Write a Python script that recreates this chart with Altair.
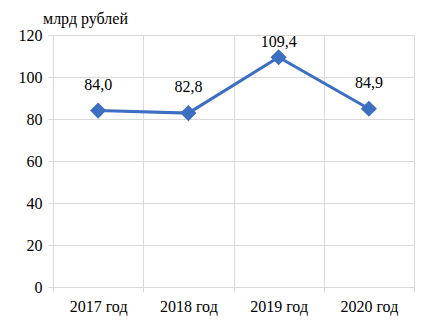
import altair as alt
import pandas as pd

years = ["2017 год", "2018 год", "2019 год", "2020 год"]
values = [84.0, 82.8, 109.4, 84.9]
labels = ["84,0", "82,8", "109,4", "84,9"]
y_ticks = [0, 20, 40, 60, 80, 100, 120]

df = pd.DataFrame({"year": years, "value": values, "label": labels})

W, H = 361, 252
FONT = "Liberation Serif"
GRID = "#d9d9d9"
BLUE = "#3c6fc1"

x_enc = alt.X(
    "year:N", sort=years, title=None,
    scale=alt.Scale(paddingInner=0, paddingOuter=0),
    axis=alt.Axis(tickBand="extent", grid=True, gridColor=GRID, ticks=True, tickColor=GRID,
                  tickSize=5, domainColor=GRID, labelAngle=0,
                  labelFont=FONT, labelFontSize=16, labelColor="#000000", labelPadding=6),
)
y_enc = alt.Y(
    "value:Q", title=None,
    scale=alt.Scale(domain=[0, 120], nice=False),
    axis=alt.Axis(values=y_ticks, grid=True, gridColor=GRID, domain=False, ticks=True,
                  tickColor=GRID, tickSize=5, labelFont=FONT, labelFontSize=16,
                  labelColor="#000000", labelPadding=6),
)

base = alt.Chart(df)

line = base.mark_line(color=BLUE, strokeWidth=3, point=alt.OverlayMarkDef(
    shape="diamond", size=260, filled=True, color=BLUE, opacity=1)).encode(x=x_enc, y=y_enc)

text = base.transform_calculate(
    ly="min(datum.value + 12.4, 116.7)"
).mark_text(font=FONT, fontSize=16, baseline="middle", color="#000000").encode(
    x=alt.X("year:N", sort=years),
    y=alt.Y("ly:Q"),
    text="label:N",
)

title = alt.Chart(pd.DataFrame({"t": ["млрд рублей"]})).mark_text(
    font=FONT, fontSize=16, align="left", baseline="alphabetic", color="#000000"
).encode(x=alt.value(-10), y=alt.value(-11), text="t:N")

chart = alt.layer(line, text, title).properties(
    width=W, height=H,
    autosize=alt.AutoSizeParams(type="none"),
    padding={"left": 45, "top": 27, "right": 8, "bottom": 40},
).configure_view(stroke=None).configure(background="white")

chart.save("out.html", embed_options={"renderer": "svg", "actions": False})
